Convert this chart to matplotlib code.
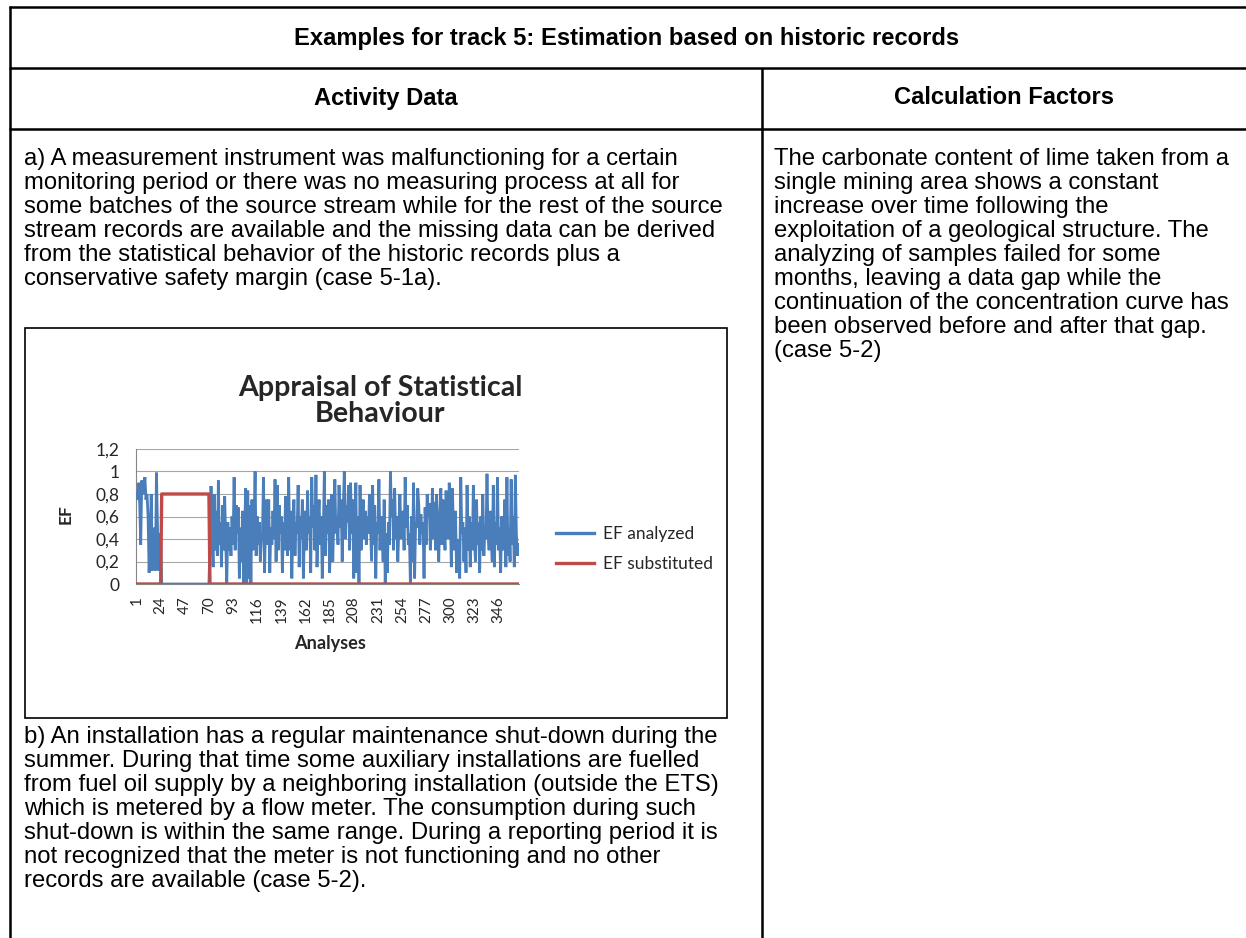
import matplotlib
matplotlib.use("Agg")
import matplotlib.pyplot as plt
from matplotlib.lines import Line2D
from matplotlib.patches import Rectangle

W, H, DPI = 1246, 938, 100

# ---------------- data ----------------
table_title = "Examples for track 5: Estimation based on historic records"
col_headers = ["Activity Data", "Calculation Factors"]
text_a = [
    "a) A measurement instrument was malfunctioning for a certain",
    "monitoring period or there was no measuring process at all for",
    "some batches of the source stream while for the rest of the source",
    "stream records are available and the missing data can be derived",
    "from the statistical behavior of the historic records plus a",
    "conservative safety margin (case 5-1a).",
]
text_b = [
    "b) An installation has a regular maintenance shut-down during the",
    "summer. During that time some auxiliary installations are fuelled",
    "from fuel oil supply by a neighboring installation (outside the ETS)",
    "which is metered by a flow meter. The consumption during such",
    "shut-down is within the same range. During a reporting period it is",
    "not recognized that the meter is not functioning and no other",
    "records are available (case 5-2).",
]
text_right = [
    "The carbonate content of lime taken from a",
    "single mining area shows a constant",
    "increase over time following the",
    "exploitation of a geological structure. The",
    "analyzing of samples failed for some",
    "months, leaving a data gap while the",
    "continuation of the concentration curve has",
    "been observed before and after that gap.",
    "(case 5-2)",
]

chart_title_lines = ["Appraisal of Statistical", "Behaviour"]
y_label = "EF"
x_label = "Analyses"
series_names = ["EF analyzed", "EF substituted"]
y_ticks = [0, 0.2, 0.4, 0.6, 0.8, 1.0, 1.2]
y_tick_labels = ["0", "0,2", "0,4", "0,6", "0,8", "1", "1,2"]
x_tick_values = [1, 24, 47, 70, 93, 116, 139, 162, 185, 208, 231, 254, 277, 300, 323, 346]

# EF analyzed, analyses 1..24 (before the gap)
ef_before = [0.80, 0.75, 0.90, 0.72, 0.35, 0.92, 0.80, 0.85, 0.95, 0.75,
             0.80, 0.60, 0.10, 0.40, 0.80, 0.12, 0.50, 0.45, 0.12, 0.99,
             0.50, 0.12, 0.20, 0.45]
# analyses 25..70: no measurement
ef_gap = [0.0] * 46
# analyses 71..365
ef_after = [
    0.35, 0.87, 0.40, 0.15, 0.80, 0.30, 0.65, 0.25, 0.92, 0.35,
    0.55, 0.15, 0.70, 0.30, 0.78, 0.40, 0.00, 0.55, 0.30, 0.50,
    0.25, 0.60, 0.35, 0.95, 0.30, 0.70, 0.45, 0.68, 0.05, 0.50,
    0.20, 0.65, 0.00, 0.45, 0.85, 0.00, 0.83, 0.05, 0.70, 0.00,
    0.75, 0.30, 0.55, 1.00, 0.25, 0.60, 0.35, 0.55, 0.20, 0.40,
    0.45, 0.95, 0.10, 0.55, 0.75, 0.35, 0.75, 0.10, 0.50, 0.35,
    0.65, 0.40, 0.93, 0.20, 0.88, 0.30, 0.70, 0.45, 0.60, 0.10,
    0.55, 0.30, 0.78, 0.40, 0.25, 0.95, 0.30, 0.65, 0.05, 0.50,
    0.75, 0.25, 0.55, 0.45, 0.88, 0.15, 0.60, 0.40, 0.75, 0.05,
    0.50, 0.65, 0.30, 0.83, 0.45, 0.60, 0.10, 0.95, 0.50, 0.70,
    0.30, 0.97, 0.15, 0.55, 0.75, 0.35, 0.60, 0.05, 0.45, 1.00,
    0.25, 0.70, 0.45, 0.75, 0.10, 0.40, 0.80, 0.20, 0.55, 0.93,
    0.45, 0.60, 0.35, 0.88, 0.50, 0.75, 0.20, 0.65, 1.00, 0.40,
    0.70, 0.55, 0.88, 0.30, 0.90, 0.45, 0.75, 0.05, 0.35, 0.90,
    0.10, 0.60, 0.00, 0.88, 0.30, 0.55, 0.75, 0.40, 0.65, 0.35,
    0.60, 0.45, 0.80, 0.50, 0.20, 0.88, 0.35, 0.70, 0.05, 0.55,
    0.45, 0.93, 0.30, 0.60, 0.50, 0.20, 0.75, 0.00, 0.45, 0.10,
    0.55, 0.35, 1.00, 0.60, 0.75, 0.30, 0.85, 0.40, 0.60, 0.20,
    0.50, 0.80, 0.40, 0.55, 0.65, 0.30, 0.95, 0.50, 0.70, 0.35,
    0.45, 0.00, 0.60, 0.20, 0.90, 0.05, 0.55, 0.50, 0.85, 0.70,
    0.35, 0.62, 0.45, 0.55, 0.05, 0.68, 0.35, 0.80, 0.60, 0.72,
    0.30, 0.50, 0.85, 0.40, 0.73, 0.30, 0.80, 0.45, 0.20, 0.60,
    0.85, 0.35, 0.75, 0.50, 0.30, 0.83, 0.55, 0.40, 0.90, 0.65,
    0.15, 0.85, 0.50, 0.30, 0.65, 0.10, 0.40, 0.20, 0.05, 0.95,
    0.45, 0.55, 0.20, 0.50, 0.10, 0.88, 0.30, 0.60, 0.15, 0.55,
    0.30, 0.88, 0.40, 0.20, 0.75, 0.35, 0.55, 0.10, 0.60, 0.30,
    0.80, 0.25, 0.50, 0.40, 0.98, 0.45, 0.30, 0.65, 0.40, 0.20,
    0.88, 0.15, 0.55, 0.35, 0.95, 0.30, 0.50, 0.10, 0.60, 0.30,
    0.40, 0.75, 0.15, 0.95, 0.25, 0.50, 0.20, 0.93, 0.35, 0.60,
    0.15, 0.97, 0.45, 0.25, 0.35,
]
ef_analyzed = ef_before + ef_gap + ef_after
# EF substituted: 0 outside the gap, 0.8 inside it
ef_substituted = [0.0] * len(ef_before) + [0.8] * len(ef_gap) + [0.0] * len(ef_after)
analyses = list(range(1, len(ef_analyzed) + 1))

# ---------------- helpers ----------------
fig = plt.figure(figsize=(W / DPI, H / DPI), dpi=DPI)
fig.patch.set_facecolor("white")
renderer = fig.canvas.get_renderer()


def fx(x):
    return x / W


def fy(y):
    return 1 - y / H


def fit(t, target_w):
    """scale font size so the text's rendered width matches target_w pixels"""
    w = t.get_window_extent(renderer).width
    t.set_fontsize(t.get_fontsize() * target_w / w)
    return t.get_fontsize()


def hline(y, x0, x1, lw, color="black"):
    fig.add_artist(Line2D([fx(x0), fx(x1)], [fy(y), fy(y)], lw=lw, color=color,
                          transform=fig.transFigure, solid_capstyle="butt"))


def vline(x, y0, y1, lw, color="black"):
    fig.add_artist(Line2D([fx(x), fx(x)], [fy(y0), fy(y1)], lw=lw, color=color,
                          transform=fig.transFigure, solid_capstyle="butt"))


TABLE_FONT = ["Liberation Sans", "DejaVu Sans"]
CHART_FONT = ["Lato", "DejaVu Sans"]

# ---------------- table ----------------
TLW = 1.8
hline(7, 9, W, TLW)
hline(68, 9, W, TLW)
hline(129, 9, W, TLW)
vline(10, 6, H, TLW)
vline(762, 68, H, TLW)

t = fig.text(fx(627), fy(38), table_title, ha="center", va="center",
             fontweight="bold", family=TABLE_FONT, fontsize=14)
fit(t, 668)
hs = t.get_fontsize()
fig.text(fx(386), fy(98), col_headers[0], ha="center", va="center",
         fontweight="bold", family=TABLE_FONT, fontsize=hs)
fig.text(fx(1004), fy(98), col_headers[1], ha="center", va="center",
         fontweight="bold", family=TABLE_FONT, fontsize=hs)

ref = fig.text(fx(24), fy(207), text_a[2], ha="left", va="center",
               family=TABLE_FONT, fontsize=14)
bs = fit(ref, 703)
ref.remove()
LS = 24
for i, line in enumerate(text_a):
    fig.text(fx(24), fy(159 + i * LS), line, ha="left", va="center",
             family=TABLE_FONT, fontsize=bs)
for i, line in enumerate(text_b):
    fig.text(fx(24), fy(737 + i * LS), line, ha="left", va="center",
             family=TABLE_FONT, fontsize=bs)
for i, line in enumerate(text_right):
    fig.text(fx(774), fy(159 + i * LS), line, ha="left", va="center",
             family=TABLE_FONT, fontsize=bs)

# chart frame
fig.add_artist(Rectangle((fx(25), fy(718)), fx(727) - fx(25), fy(328) - fy(718),
                         transform=fig.transFigure, fill=False, lw=1.2,
                         edgecolor="black"))

# ---------------- chart ----------------
AX_L, AX_R, AX_T, AX_B = 136, 519, 449, 584
ax = fig.add_axes([fx(AX_L), fy(AX_B), fx(AX_R) - fx(AX_L), fy(AX_T) - fy(AX_B)])
ax.set_facecolor("none")
BLUE, RED = "#4A7EBB", "#BE4B48"
l1, = ax.plot(analyses, ef_analyzed, color=BLUE, lw=2.0, zorder=3,
              solid_joinstyle="miter")
l2, = ax.plot(analyses, ef_substituted, color=RED, lw=2.4, zorder=4)
ax.set_xlim(0.5, len(analyses) + 0.5)
ax.set_ylim(0, 1.2)
ax.set_yticks(y_ticks)
ax.set_yticklabels(y_tick_labels)
ax.set_xticks(x_tick_values)
ax.set_xticklabels([str(v) for v in x_tick_values], rotation=90)
ax.grid(axis="y", color="#A6A6A6", lw=0.8)
ax.set_axisbelow(True)
for s in ["top", "right"]:
    ax.spines[s].set_visible(False)
ax.spines["left"].set_color("#868686")
ax.spines["bottom"].set_color("#868686")
ax.spines["left"].set_linewidth(0.8)

probe = fig.text(0, 0, "EF substituted", family=CHART_FONT, fontsize=10)
cs = fit(probe, 110)
probe.remove()
xs = cs * 0.88

ax.tick_params(axis="y", length=0, pad=12, labelsize=cs, labelcolor="#262626")
ax.tick_params(axis="x", length=0, pad=9, labelsize=xs, labelcolor="#262626")
for lab in ax.get_xticklabels() + ax.get_yticklabels():
    lab.set_family(CHART_FONT)

tt = fig.text(fx(380), fy(388), chart_title_lines[0], ha="center", va="center",
              fontweight="bold", family=CHART_FONT, fontsize=14, color="#262626")
ts = fit(tt, 287)
fig.text(fx(380), fy(414), chart_title_lines[1], ha="center", va="center",
         fontweight="bold", family=CHART_FONT, fontsize=ts, color="#262626")

fig.text(fx(66), fy(514), y_label, ha="center", va="center", rotation=90,
         fontweight="bold", family=CHART_FONT, fontsize=cs, color="#262626")
xl = fig.text(fx(330), fy(643), x_label, ha="center", va="center",
              fontweight="bold", family=CHART_FONT, fontsize=cs, color="#262626")
fit(xl, 72)

leg = ax.legend([l1, l2], series_names, loc="center left",
                bbox_to_anchor=(fx(547), fy(549)), bbox_transform=fig.transFigure,
                frameon=False, prop={"family": CHART_FONT, "size": cs},
                handlelength=38 / (cs * DPI / 72), handletextpad=0.55,
                labelspacing=0.85, borderpad=0)
for txt in leg.get_texts():
    txt.set_color("#262626")
for h in leg.legend_handles:
    h.set_linewidth(2.4)

fig.savefig("out.png", dpi=DPI, facecolor="white")
